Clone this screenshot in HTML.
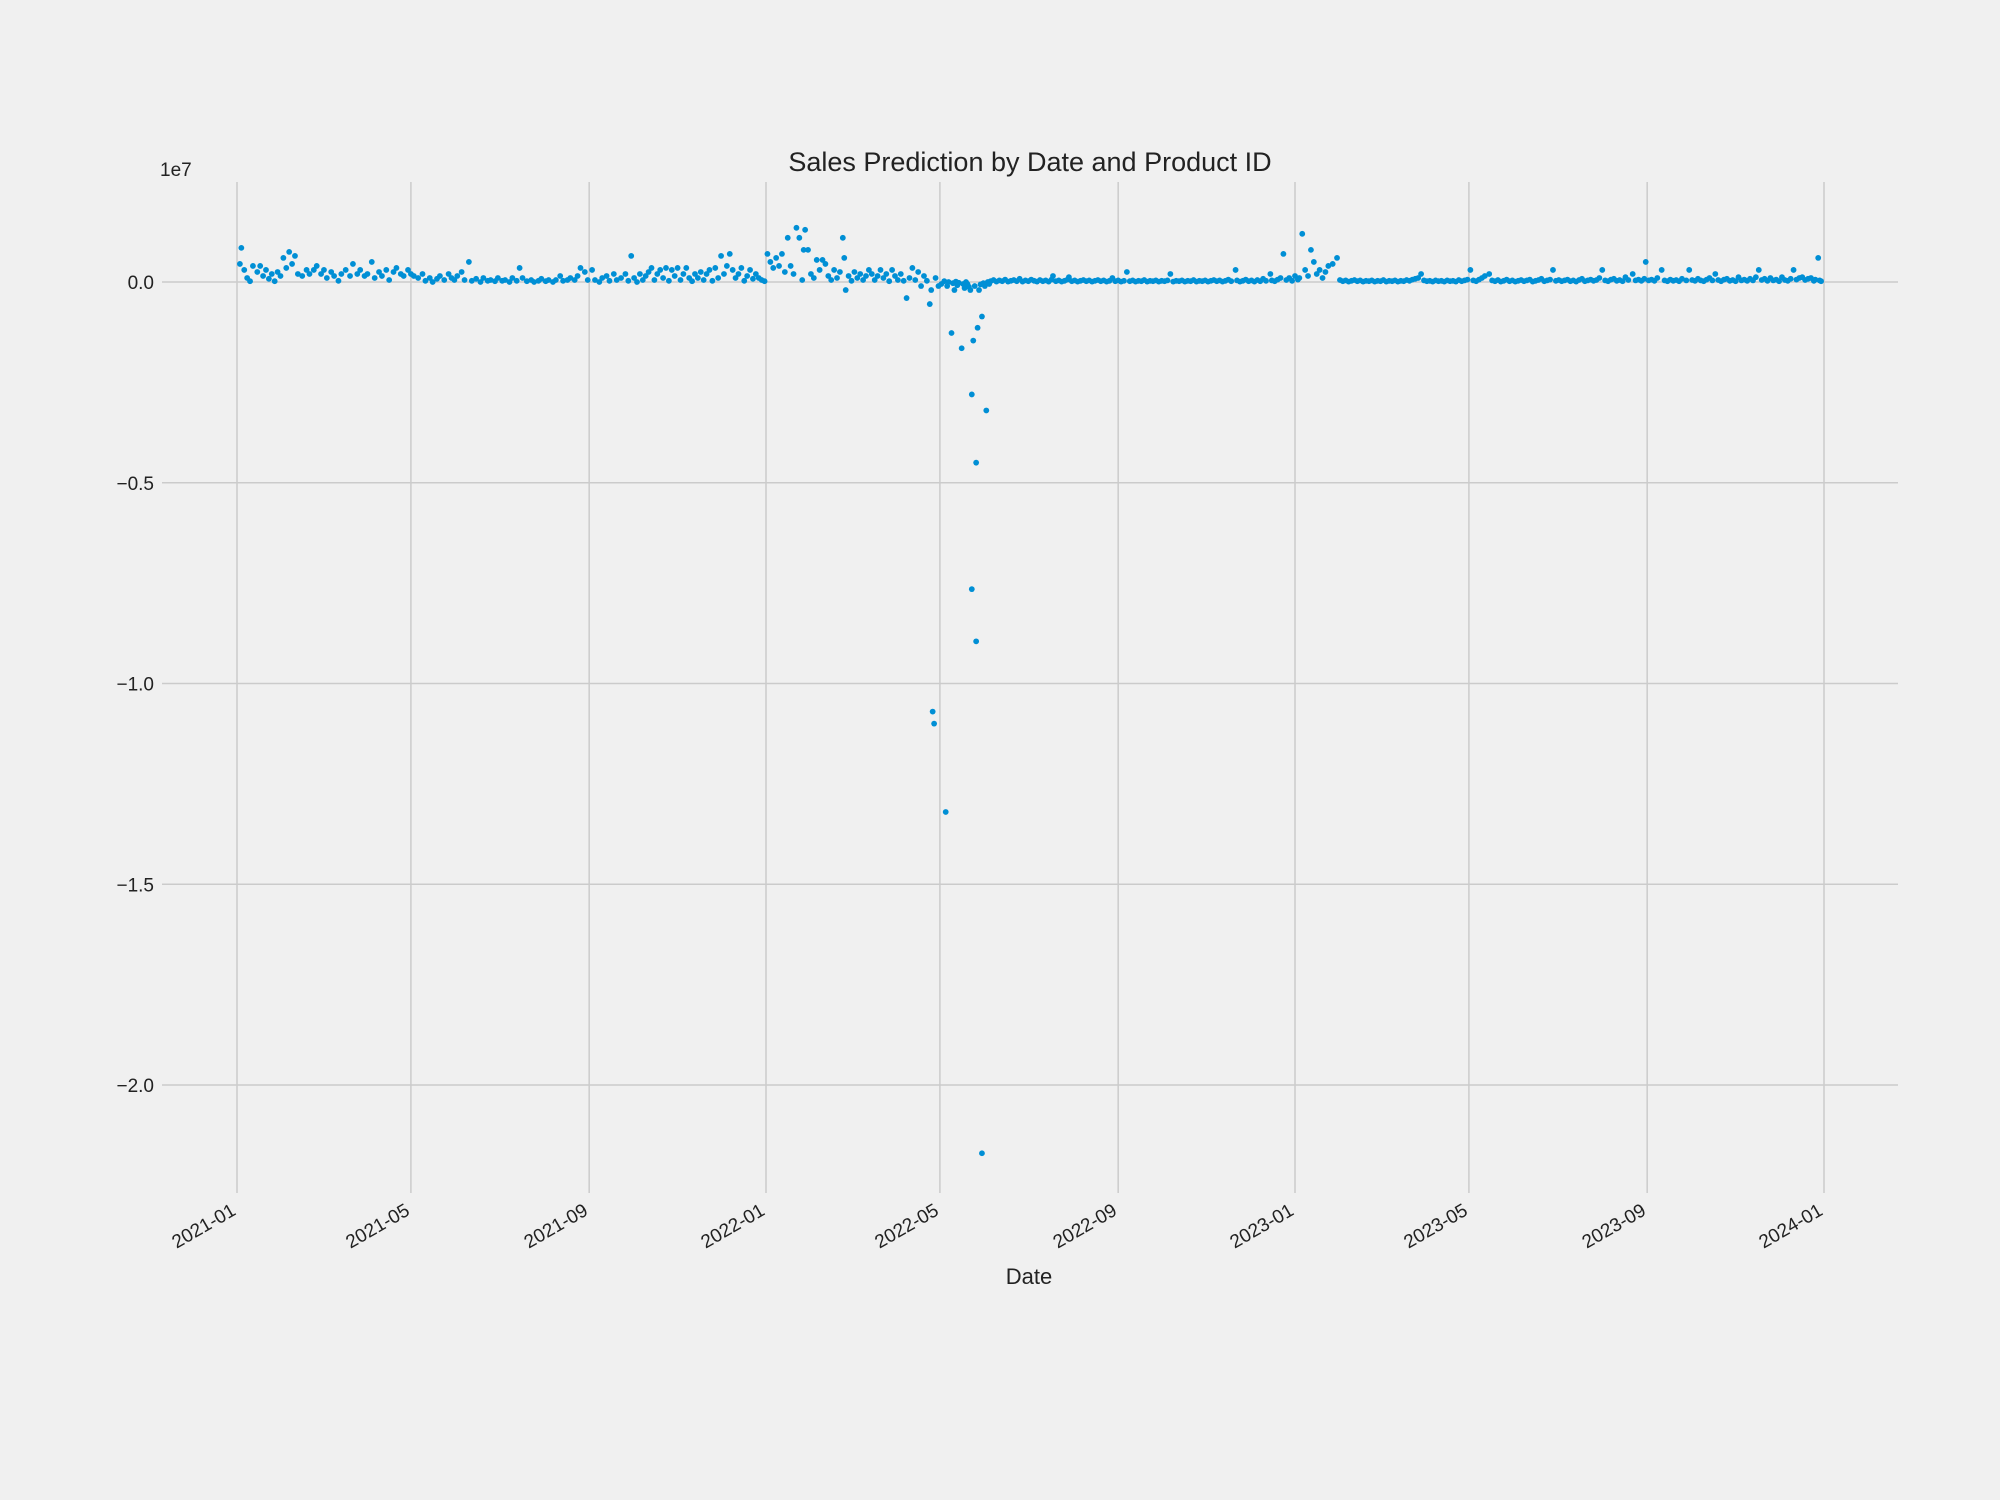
<!DOCTYPE html>
<html><head><meta charset="utf-8"><style>
html,body{margin:0;padding:0;background:#f0f0f0;}
svg{display:block;font-family:"Liberation Sans","DejaVu Sans",sans-serif;}
</style></head><body>
<svg id="chart" width="2000" height="1500" viewBox="0 0 2000 1500" xmlns="http://www.w3.org/2000/svg">
<rect x="0" y="0" width="2000" height="1500" fill="#f0f0f0"/>
<g id="grid"></g>
<g id="points"></g>
<g id="xticks"></g>
<g id="yticks"></g>
<text x="1030" y="171" font-size="27" text-anchor="middle" fill="#222">Sales Prediction by Date and Product ID</text>
<text x="160" y="176" font-size="19" fill="#222">1e7</text>
<text x="1029" y="1284" font-size="22" text-anchor="middle" fill="#222">Date</text>
</svg>
<script>
// day offsets from 2021-01-01 for x tick positions
const xTickDays = [0, 120, 243, 365, 485, 608, 730, 850, 973, 1095];
const xTickLabels = ["2021-01","2021-05","2021-09","2022-01","2022-05","2022-09","2023-01","2023-05","2023-09","2024-01"];
const yTickValues = [0, -50, -100, -150, -200]; // units of 1e5
const yTickLabels = ["0.0","\u22120.5","\u22121.0","\u22121.5","\u22122.0"];
// [day offset from 2021-01-01, sales value in units of 1e5]
const salesPoints = [
[2,4.5],[3,8.5],[5,3],[7,1],[9,0.2],[11,4],[14,2.5],[16,4],[18,1.5],[20,3],[22,0.8],[24,2],[26,0.2],[28,2.5],[30,1.5],[32,6],[34,3.5],[36,7.5],[38,4.5],[40,6.5],[42,2],[45,1.5],[48,3],[50,2],[53,3],[55,4],[58,2],[60,3],[62,1],[65,2.5],[67,1.5],[70,0.3],[72,2],[75,3],[78,1.5],[80,4.5],[83,2],[85,3],[88,1.5],[90,2],[93,5],[95,1],[98,2.5],[100,1.5],[103,3],[105,0.5],[108,2.5],[110,3.5],[113,2],[115,1.5],[118,3],[120,2],
[122,1.5],[125,1],[128,2],[130,0.3],[133,1],[135,0],[138,0.8],[140,1.5],[143,0.5],[146,2],[148,1],[150,0.5],[152,1.5],[155,2.5],[157,0.5],[160,5],[162,0.3],[165,0.8],[168,0],[170,1],[173,0.3],[175,0.5],[178,0.2],[180,1],[183,0.3],[185,0.5],[188,0],[190,1],[193,0.3],[195,3.5],[197,1],[200,0.2],[203,0.5],[205,0],[208,0.3],[210,0.8],[213,0.2],[215,0.5],[218,0],[220,0.5],[223,1.5],[225,0.3],[228,0.5],[230,1],[233,0.5],[235,1.5],[237,3.5],[240,2.5],[242,0.5],
[245,3],[247,0.5],[250,0],[252,1],[255,1.5],[257,0.3],[260,2],[262,0.5],[265,1],[268,2],[270,0.3],[272,6.5],[274,1],[276,0],[278,2],[280,0.5],[282,1.5],[284,2.5],[286,3.5],[288,0.5],[290,2],[292,3],[294,1],[296,3.5],[298,0.3],[300,3],[302,1.5],[304,3.5],[306,0.5],[308,2],[310,3.5],[312,1],[314,0.2],[316,2],[318,1],[320,2.5],[322,0.5],[324,2],[326,3],[328,0.3],[330,3.5],[332,1],[334,6.5],[336,2],[338,4],[340,7],[342,3],[344,1],[346,2],[348,3.5],[350,0.3],[352,1.5],[354,3],[356,0.8],[358,2],[360,1],[362,0.5],[364,0.2],
[366,7],[368,5],[370,3.5],[372,6],[374,4],[376,7],[378,2.5],[380,11],[382,4],[384,2],[386,13.5],[388,11],[390,0.5],[391,8],[392,13],[394,8],[396,2],[398,1],[400,5.5],[402,3],[404,5.5],[406,4.5],[408,1.5],[410,0.5],[412,3],[414,1],[416,2.5],[418,11],[419,6],[420,-2],[422,1.5],[424,0.3],[426,2.5],[428,1],[430,2],[432,0.5],[434,1.5],[436,3],[438,2],[440,0.5],[442,1.5],[444,3],[446,1],[448,2],[450,0.2],[452,3],[454,1.5],[456,0.5],[458,2],[460,0.3],[462,-4],[464,1],[466,3.5],[468,0.5],[470,2.5],[472,-1],[474,1.5],[476,0.3],[478,-5.5],[479,-2],[480,-107],[481,-110],[482,1],[484,-1],
[486,-0.5],[488,0.2],[489,-132],[490,-1],[491,0],[493,-12.7],[494,-0.3],[495,-2],[496,0.1],[497,-0.8],[498,-0.2],[500,-16.5],[501,-0.5],[502,-1.5],[503,0],[504,-0.5],[505,-1.2],[506,-2],[507,-28],[507,-76.5],[508,-14.6],[509,-1],[510,-89.5],[510,-45],[511,-11.4],[512,-2],[513,-0.6],[514,-217],[514,-8.6],[515,-0.3],[516,-1],[517,-32],[518,0],[519,-0.5],
[520,0.2],[522,0.5],[524,0.1],[526,0.4],[528,0.2],[530,0.6],[532,0.1],[534,0.3],[536,0.5],[538,0.2],[540,0.8],[542,0.1],[544,0.4],[546,0.2],[548,0.6],[550,0.3],[552,0.1],[554,0.5],[556,0.2],[558,0.4],[560,0.1],[562,0.6],[563,1.5],[565,0.2],[567,0.4],[569,0.1],[571,0.3],[573,0.6],[574,1.2],[576,0.2],[578,0.4],[580,0.1],[582,0.3],[584,0.5],[586,0.2],[588,0.4],[590,0.1],[592,0.3],[594,0.5],[596,0.2],[598,0.4],[600,0.1],[602,0.3],[604,1],[606,0.2],[608,0.4],[610,0.1],[612,0.3],[614,2.5],[616,0.2],[618,0.4],[620,0.1],[622,0.3],[624,0.2],[626,0.5],[628,0.1],[630,0.3],[632,0.2],[634,0.4],[636,0.1],[638,0.3],[640,0.2],[642,0.4],[644,2],[646,0.1],[648,0.3],[650,0.2],[652,0.4],[654,0.1],[656,0.3],[658,0.2],[660,0.5],[662,0.1],[664,0.3],[666,0.2],[668,0.4],[670,0.1],[672,0.3],[674,0.5],[676,0.2],[678,0.4],[680,0.1],[682,0.3],[684,0.6],[686,0.2],[689,3],[690,0.4],[692,0.1],[694,0.3],[696,0.6],[698,0.2],[700,0.4],[702,0.1],[704,0.5],[706,0.2],[708,0.8],[710,0.3],[713,2],[714,0.4],[716,0.2],[718,0.6],[720,1],[722,7],[724,0.5],[726,1],[728,0.3],[730,1.5],[732,0.6],[733,1],[735,12],[737,3],[739,1.5],[741,8],[743,5],[745,2],[747,3],[749,1],[751,2.5],[753,4],[756,4.5],[759,6],[761,0.5],[763,0.2],[765,0.4],[767,0.1],[769,0.3],[771,0.5],[773,0.2],[775,0.4],[777,0.1],[779,0.3],[781,0.2],[783,0.4],[785,0.1],[787,0.3],[789,0.2],[791,0.5],[793,0.1],[795,0.3],[797,0.2],[799,0.4],[801,0.1],[803,0.3],[805,0.2],[807,0.5],[809,0.3],[811,0.6],[813,0.8],[815,1],[817,2],[819,0.4],[821,0.2],[823,0.3],[825,0.1],[827,0.4],[829,0.2],[831,0.3],[833,0.1],[835,0.4],[837,0.2],[839,0.3],[841,0.1],[843,0.5],[845,0.2],[847,0.4],[849,0.6],[851,3],[853,0.4],[855,0.2],[857,0.6],[859,1],[861,1.5],[864,2],[866,0.4],[868,0.2],[870,0.5],[872,0.1],[874,0.3],[876,0.6],[878,0.2],[880,0.4],[882,0.1],[884,0.3],[886,0.5],[888,0.2],[890,0.4],[892,0.6],[894,0.1],[896,0.3],[898,0.5],[900,0.8],[902,0.2],[904,0.4],[906,0.6],[908,3],[910,0.3],[912,0.5],[914,0.2],[916,0.4],[918,0.6],[920,0.2],[922,0.4],[924,0.1],[926,0.5],[928,0.8],[930,0.2],[932,0.4],[934,0.6],[936,0.3],[938,0.5],[940,1],[942,3],[944,0.4],[946,0.2],[948,0.6],[950,0.8],[952,0.3],[954,0.5],[956,0.2],[958,1.2],[960,0.5],[963,2],[965,0.4],[967,0.6],[969,0.3],[971,0.8],[972,5],[974,0.4],[976,0.6],[978,0.3],[980,1],[983,3],[985,0.4],[987,0.2],[989,0.6],[991,0.3],[993,0.5],[995,0.2],[997,0.8],[1000,0.4],[1002,3],[1004,0.5],[1006,0.3],[1008,0.8],[1010,0.4],[1012,0.2],[1014,0.6],[1016,1],[1018,0.4],[1020,2],[1022,0.5],[1024,0.2],[1026,0.6],[1028,0.8],[1030,0.3],[1032,0.5],[1034,0.2],[1036,1.2],[1038,0.4],[1040,0.6],[1042,0.3],[1044,0.8],[1046,0.4],[1048,1.2],[1050,3],[1052,0.5],[1054,0.8],[1056,0.3],[1058,1],[1060,0.4],[1062,0.6],[1064,0.2],[1066,1.2],[1068,0.5],[1070,0.3],[1072,0.8],[1074,3],[1076,0.6],[1078,1],[1080,1.2],[1082,0.5],[1084,0.8],[1086,1],[1088,0.3],[1089,0.6],[1091,6],[1092,0.4],[1093,0.2]
];

const NS = "http://www.w3.org/2000/svg";
const X0 = 237, XPERDAY = 1587 / 1095;
const Y0 = 282, YPERUNIT = 803 / 200;
const xScale = d => X0 + d * XPERDAY;
const yScale = v => Y0 - v * YPERUNIT;
const PL = 162, PR = 1898, PT = 182, PB = 1193;

const grid = document.getElementById("grid");
const xt = document.getElementById("xticks");
const yt = document.getElementById("yticks");
const pts = document.getElementById("points");

yTickValues.forEach((v, i) => {
  const y = yScale(v);
  const ln = document.createElementNS(NS, "line");
  ln.setAttribute("x1", PL); ln.setAttribute("x2", PR);
  ln.setAttribute("y1", y); ln.setAttribute("y2", y);
  ln.setAttribute("stroke", "#cbcbcb"); ln.setAttribute("stroke-width", "1.5");
  
  
  grid.appendChild(ln);
  const t = document.createElementNS(NS, "text");
  t.setAttribute("x", 154); t.setAttribute("y", y + 7);
  t.setAttribute("text-anchor", "end"); t.setAttribute("font-size", "19"); t.setAttribute("fill", "#222");
  t.textContent = yTickLabels[i];
  
  
  yt.appendChild(t);
});

xTickDays.forEach((d, i) => {
  const x = xScale(d);
  const ln = document.createElementNS(NS, "line");
  ln.setAttribute("x1", x); ln.setAttribute("x2", x);
  ln.setAttribute("y1", PT); ln.setAttribute("y2", PB);
  ln.setAttribute("stroke", "#cbcbcb"); ln.setAttribute("stroke-width", "1.5");
  
  
  grid.appendChild(ln);
  const t = document.createElementNS(NS, "text");
  t.setAttribute("x", x); t.setAttribute("y", 1214);
  t.setAttribute("text-anchor", "end"); t.setAttribute("font-size", "19"); t.setAttribute("fill", "#222");
  t.setAttribute("transform", "rotate(-30 " + x + " 1214)");
  t.textContent = xTickLabels[i];
  
  
  xt.appendChild(t);
});

salesPoints.forEach(p => {
  const c = document.createElementNS(NS, "circle");
  c.setAttribute("cx", xScale(p[0]));
  c.setAttribute("cy", yScale(p[1]));
  c.setAttribute("r", "2.9");
  c.setAttribute("fill", "#008fd5");
  
  
  pts.appendChild(c);
});
</script>
</body></html>
